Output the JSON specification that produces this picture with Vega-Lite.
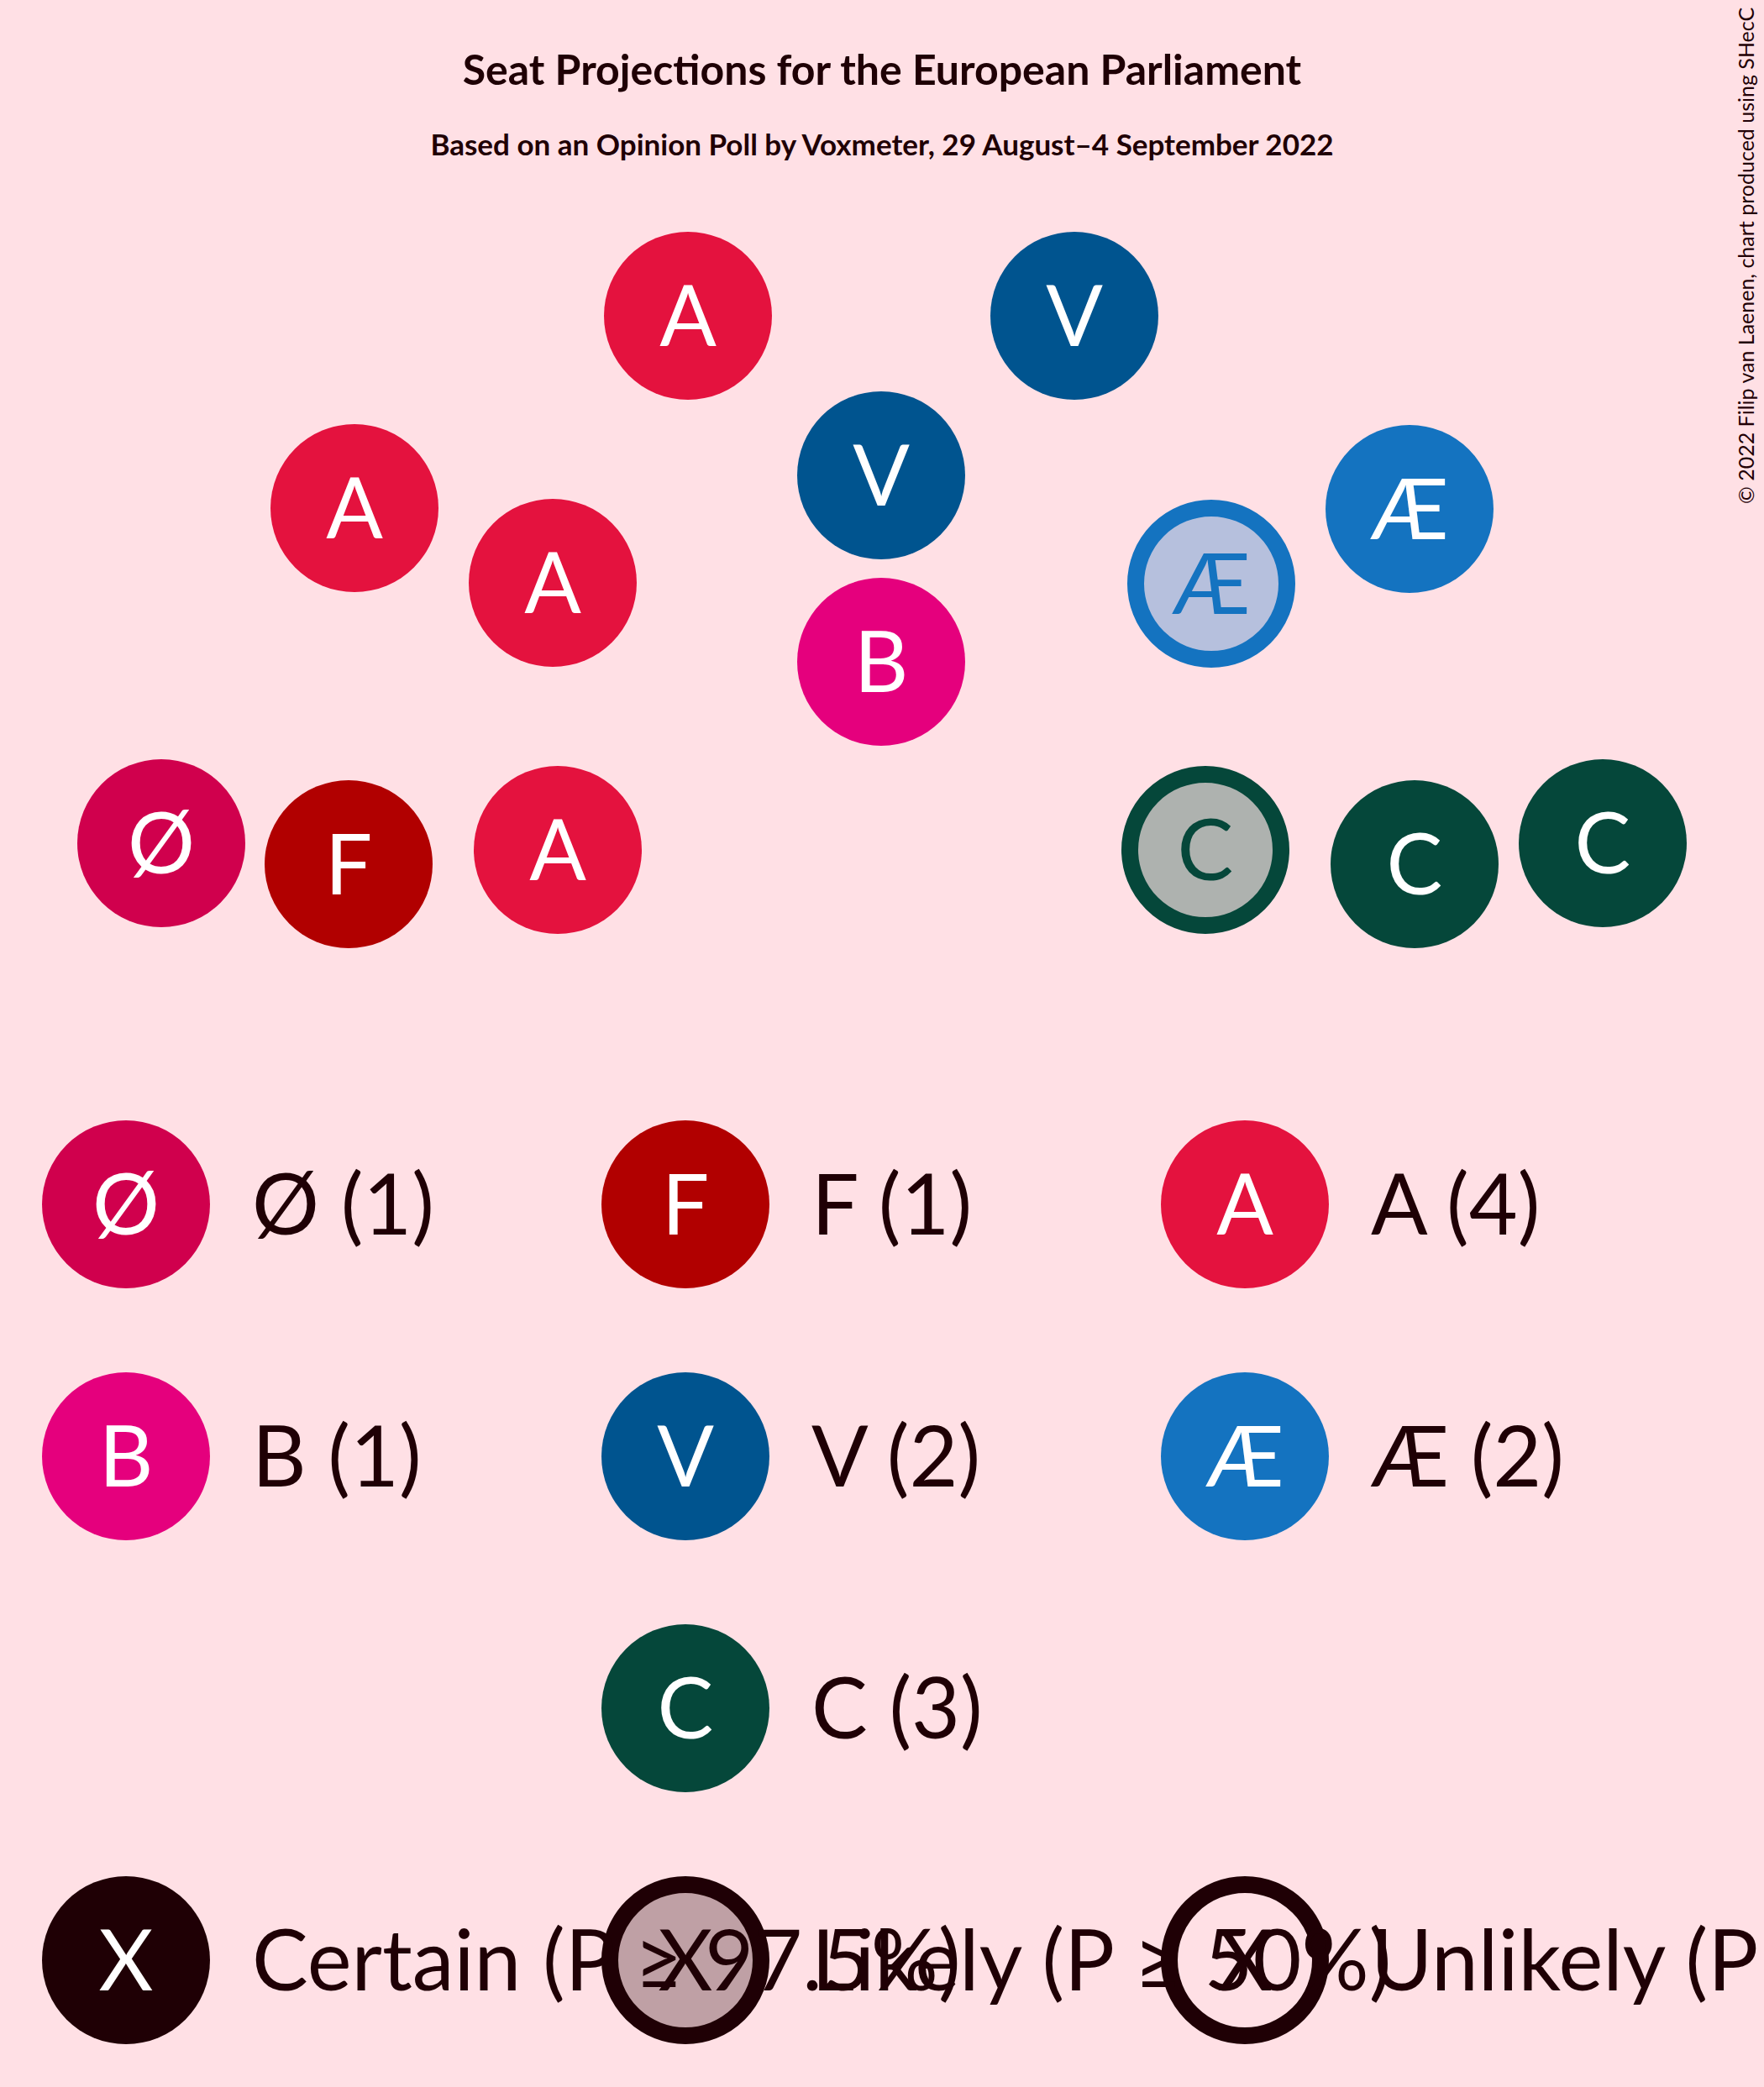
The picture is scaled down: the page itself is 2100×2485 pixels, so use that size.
{
  "$schema": "https://vega.github.io/schema/vega-lite/v6.json",
  "width": 2100,
  "height": 2485,
  "autosize": {"type": "fit", "contains": "padding"},
  "padding": 0,
  "background": "#FFE0E5",
  "config": {"view": {"stroke": null}, "font": "Lato", "text": {"font": "Lato"}},
  "datasets": {
    "seats": [
      {"party": "A", "status": "Certain", "x": 819, "y": 376},
      {"party": "V", "status": "Certain", "x": 1279, "y": 376},
      {"party": "V", "status": "Certain", "x": 1049, "y": 566},
      {"party": "A", "status": "Certain", "x": 422, "y": 605},
      {"party": "A", "status": "Certain", "x": 658, "y": 694},
      {"party": "Æ", "status": "Likely", "x": 1442, "y": 695},
      {"party": "Æ", "status": "Certain", "x": 1678, "y": 606},
      {"party": "B", "status": "Certain", "x": 1049, "y": 788},
      {"party": "Ø", "status": "Certain", "x": 192, "y": 1004},
      {"party": "F", "status": "Certain", "x": 415, "y": 1029},
      {"party": "A", "status": "Certain", "x": 664, "y": 1012},
      {"party": "C", "status": "Likely", "x": 1435, "y": 1012},
      {"party": "C", "status": "Certain", "x": 1684, "y": 1029},
      {"party": "C", "status": "Certain", "x": 1908, "y": 1004}
    ],
    "parties": [
      {"party": "Ø", "label": "Ø (1)", "col": 0, "row": 0},
      {"party": "F", "label": "F (1)", "col": 1, "row": 0},
      {"party": "A", "label": "A (4)", "col": 2, "row": 0},
      {"party": "B", "label": "B (1)", "col": 0, "row": 1},
      {"party": "V", "label": "V (2)", "col": 1, "row": 1},
      {"party": "Æ", "label": "Æ (2)", "col": 2, "row": 1},
      {"party": "C", "label": "C (3)", "col": 1, "row": 2}
    ],
    "statuses": [
      {"status": "Certain", "label": "Certain (P ≥ 97.5%)", "col": 0, "row": 3},
      {"status": "Likely", "label": "Likely (P ≥ 50%)", "col": 1, "row": 3},
      {"status": "Unlikely", "label": "Unlikely (P < 50%)", "col": 2, "row": 3}
    ],
    "notes": [
      {"title": "Seat Projections for the European Parliament", "subtitle": "Based on an Opinion Poll by Voxmeter, 29 August–4 September 2022", "credit": "© 2022 Filip van Laenen, chart produced using SHecC"}
    ]
  },
  "resolve": {"scale": {"x": "independent", "y": "independent"}},
  "layer": [
    {
      "data": {"name": "seats"},
      "transform": [{"filter": "datum.status === 'Certain'"}],
      "mark": {"type": "point", "shape": "circle", "filled": true, "size": 40000, "opacity": 1, "strokeWidth": 0},
      "encoding": {
        "x": {"field": "x", "type": "quantitative", "scale": {"domain": [0, 2100], "range": [0, 2100]}, "axis": null},
        "y": {"field": "y", "type": "quantitative", "scale": {"domain": [0, 2485], "range": [0, 2485]}, "axis": null},
        "color": {"field": "party", "type": "nominal", "legend": null, "scale": {"domain": ["Ø", "F", "A", "B", "V", "Æ", "C"], "range": ["#D0004D", "#B10000", "#E4123E", "#E5007D", "#00548F", "#1473C0", "#05473A"]}}
      }
    },
    {
      "data": {"name": "seats"},
      "transform": [{"filter": "datum.status === 'Likely'"}],
      "mark": {"type": "point", "shape": "circle", "filled": true, "size": 32400, "opacity": 1, "strokeWidth": 20},
      "encoding": {
        "x": {"field": "x", "type": "quantitative", "scale": {"domain": [0, 2100], "range": [0, 2100]}, "axis": null},
        "y": {"field": "y", "type": "quantitative", "scale": {"domain": [0, 2485], "range": [0, 2485]}, "axis": null},
        "fill": {"field": "party", "type": "nominal", "legend": null, "scale": {"domain": ["Æ", "C"], "range": ["#B6C0DD", "#AEB2AF"]}},
        "stroke": {"field": "party", "type": "nominal", "legend": null, "scale": {"domain": ["Ø", "F", "A", "B", "V", "Æ", "C"], "range": ["#D0004D", "#B10000", "#E4123E", "#E5007D", "#00548F", "#1473C0", "#05473A"]}}
      }
    },
    {
      "data": {"name": "seats"},
      "mark": {"type": "text", "fontSize": 100, "align": "center", "baseline": "alphabetic", "dy": 36},
      "encoding": {
        "x": {"field": "x", "type": "quantitative", "scale": {"domain": [0, 2100], "range": [0, 2100]}, "axis": null},
        "y": {"field": "y", "type": "quantitative", "scale": {"domain": [0, 2485], "range": [0, 2485]}, "axis": null},
        "text": {"field": "party"},
        "color": {"condition": {"test": "datum.status === 'Certain'", "value": "#FFFFFF"}, "field": "party", "type": "nominal", "legend": null}
      }
    },
    {
      "data": {"name": "parties"},
      "mark": {"type": "point", "shape": "circle", "filled": true, "size": 40000, "opacity": 1, "strokeWidth": 0},
      "encoding": {
        "x": {"field": "col", "type": "quantitative", "scale": {"domain": [0, 2], "range": [150, 1482]}, "axis": null},
        "y": {"field": "row", "type": "quantitative", "scale": {"domain": [0, 3], "range": [1434, 2334]}, "axis": null},
        "color": {"field": "party", "type": "nominal", "legend": null}
      }
    },
    {
      "data": {"name": "parties"},
      "mark": {"type": "text", "fontSize": 100, "align": "center", "baseline": "alphabetic", "dy": 36, "color": "#FFFFFF"},
      "encoding": {
        "x": {"field": "col", "type": "quantitative", "scale": {"domain": [0, 2], "range": [150, 1482]}, "axis": null},
        "y": {"field": "row", "type": "quantitative", "scale": {"domain": [0, 3], "range": [1434, 2334]}, "axis": null},
        "text": {"field": "party"}
      }
    },
    {
      "data": {"name": "parties"},
      "mark": {"type": "text", "fontSize": 100, "align": "left", "baseline": "alphabetic", "dx": 150, "dy": 36, "color": "#1F0005"},
      "encoding": {
        "x": {"field": "col", "type": "quantitative", "scale": {"domain": [0, 2], "range": [150, 1482]}, "axis": null},
        "y": {"field": "row", "type": "quantitative", "scale": {"domain": [0, 3], "range": [1434, 2334]}, "axis": null},
        "text": {"field": "label"}
      }
    },
    {
      "data": {"name": "statuses"},
      "transform": [{"filter": "datum.status === 'Certain'"}],
      "mark": {"type": "point", "shape": "circle", "filled": true, "size": 40000, "opacity": 1, "strokeWidth": 0, "color": "#1F0005"},
      "encoding": {
        "x": {"field": "col", "type": "quantitative", "scale": {"domain": [0, 2], "range": [150, 1482]}, "axis": null},
        "y": {"field": "row", "type": "quantitative", "scale": {"domain": [0, 3], "range": [1434, 2334]}, "axis": null}
      }
    },
    {
      "data": {"name": "statuses"},
      "transform": [{"filter": "datum.status !== 'Certain'"}],
      "mark": {"type": "point", "shape": "circle", "filled": true, "size": 32400, "opacity": 1, "strokeWidth": 20, "stroke": "#1F0005"},
      "encoding": {
        "x": {"field": "col", "type": "quantitative", "scale": {"domain": [0, 2], "range": [150, 1482]}, "axis": null},
        "y": {"field": "row", "type": "quantitative", "scale": {"domain": [0, 3], "range": [1434, 2334]}, "axis": null},
        "fill": {"condition": {"test": "datum.status === 'Likely'", "value": "#BFA0A5"}, "value": "transparent"}
      }
    },
    {
      "data": {"name": "statuses"},
      "mark": {"type": "text", "fontSize": 100, "align": "center", "baseline": "alphabetic", "dy": 36},
      "encoding": {
        "x": {"field": "col", "type": "quantitative", "scale": {"domain": [0, 2], "range": [150, 1482]}, "axis": null},
        "y": {"field": "row", "type": "quantitative", "scale": {"domain": [0, 3], "range": [1434, 2334]}, "axis": null},
        "text": {"value": "X"},
        "color": {"condition": {"test": "datum.status === 'Certain'", "value": "#FFFFFF"}, "value": "#1F0005"}
      }
    },
    {
      "data": {"name": "statuses"},
      "mark": {"type": "text", "fontSize": 100, "align": "left", "baseline": "alphabetic", "dx": 150, "dy": 36, "color": "#1F0005", "clip": true},
      "encoding": {
        "x": {"field": "col", "type": "quantitative", "scale": {"domain": [0, 2], "range": [150, 1482]}, "axis": null},
        "y": {"field": "row", "type": "quantitative", "scale": {"domain": [0, 3], "range": [1434, 2334]}, "axis": null},
        "text": {"field": "label"}
      }
    },
    {
      "data": {"name": "notes"},
      "mark": {"type": "text", "fontSize": 50, "fontWeight": "bold", "align": "center", "baseline": "alphabetic", "color": "#1F0005"},
      "encoding": {
        "x": {"datum": 1050, "type": "quantitative", "scale": {"domain": [0, 2100], "range": [0, 2100]}, "axis": null},
        "y": {"datum": 101, "type": "quantitative", "scale": {"domain": [0, 2485], "range": [0, 2485]}, "axis": null},
        "text": {"field": "title"}
      }
    },
    {
      "data": {"name": "notes"},
      "mark": {"type": "text", "fontSize": 35, "fontWeight": "bold", "align": "center", "baseline": "alphabetic", "color": "#1F0005"},
      "encoding": {
        "x": {"datum": 1050, "type": "quantitative", "scale": {"domain": [0, 2100], "range": [0, 2100]}, "axis": null},
        "y": {"datum": 185, "type": "quantitative", "scale": {"domain": [0, 2485], "range": [0, 2485]}, "axis": null},
        "text": {"field": "subtitle"}
      }
    },
    {
      "data": {"name": "notes"},
      "mark": {"type": "text", "fontSize": 25, "angle": 270, "align": "left", "baseline": "alphabetic", "color": "#1F0005"},
      "encoding": {
        "x": {"datum": 2088, "type": "quantitative", "scale": {"domain": [0, 2100], "range": [0, 2100]}, "axis": null},
        "y": {"datum": 600, "type": "quantitative", "scale": {"domain": [0, 2485], "range": [0, 2485]}, "axis": null},
        "text": {"field": "credit"}
      }
    }
  ]
}
